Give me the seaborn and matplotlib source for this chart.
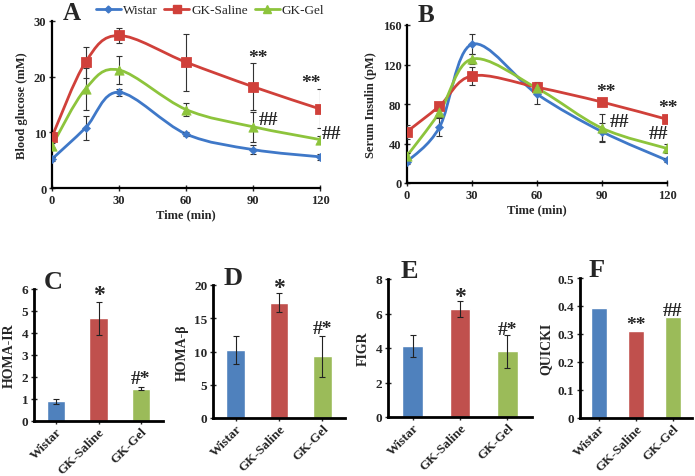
import numpy as np
import pandas as pd
import seaborn as sns
import matplotlib.pyplot as plt
from matplotlib.path import Path
from matplotlib.patches import PathPatch
from matplotlib.lines import Line2D
from matplotlib.ticker import FuncFormatter

sns.set_style("ticks")
plt.rcParams['font.family'] = ['Liberation Serif', 'DejaVu Serif']
plt.rcParams['font.weight'] = 'bold'

# time course data
time = [0, 15, 30, 60, 90, 120]

glucose_wistar = [5.2, 10.8, 17.2, 9.7, 6.9, 5.6]
glucose_wistar_err = [0.4, 2.1, 0.6, 0.4, 0.8, 0.5]
glucose_saline = [9.2, 22.6, 27.4, 22.6, 18.2, 14.2]
glucose_saline_err = [0.6, 2.8, 1.4, 5.1, 4.2, 3.5]
glucose_gel = [7.6, 17.8, 21.2, 14.1, 11.0, 8.7]
glucose_gel_err = [0.5, 3.7, 2.5, 1.1, 2.7, 0.6]

insulin_wistar = [21.5, 56.5, 140.5, 90.0, 52.0, 23.0]
insulin_wistar_err = [2, 9, 10, 10, 9, 2]
insulin_saline = [52.0, 78.0, 108.5, 97.0, 82.0, 64.5]
insulin_saline_err = [7, 3, 9, 5, 3, 2]
insulin_gel = [27.5, 71.5, 125.5, 96.0, 55.5, 35.0]
insulin_gel_err = [3, 5, 5, 4, 14, 5]

# summary indices
groups = ["Wistar", "GK-Saline", "GK-Gel"]
homa_ir = [0.9, 4.68, 1.47]
homa_ir_err = [0.12, 0.75, 0.07]
homa_b = [10.25, 17.35, 9.25]
homa_b_err = [2.1, 1.4, 3.1]
figr = [4.12, 6.25, 3.8]
figr_err = [0.62, 0.45, 0.95]
quicki = [0.392, 0.31, 0.36]

blue, red, green = "#4F81BD", "#C0504D", "#9BBB59"
line_blue, line_red, line_green = "#3F78C8", "#D0403A", "#8DC43C"

W, H = 695, 477
fig = plt.figure(figsize=(W / 100, H / 100), dpi=100)


def box(l, t, r, b):
    return [l / W, 1 - b / H, (r - l) / W, (b - t) / H]


def smooth_path(x, y):
    # Excel-like smoothed line: Catmull-Rom segments as cubic Bezier
    p = np.column_stack([x, y]).astype(float)
    n = len(p)
    verts = [p[0]]
    codes = [Path.MOVETO]
    for i in range(n - 1):
        p0 = p[i - 1] if i > 0 else p[i]
        p3 = p[i + 2] if i + 2 < n else p[i + 1]
        c1 = p[i] + (p[i + 1] - p0) / 6
        c2 = p[i + 1] - (p3 - p[i]) / 6
        verts += [c1, c2, p[i + 1]]
        codes += [Path.CURVE4] * 3
    return Path(verts, codes)


def time_panel(ax, series, ylim, yticks, ylabel):
    for vals, err, col, mk, ms in series:
        ax.add_patch(PathPatch(smooth_path(time, vals), fill=False,
                               edgecolor=col, lw=2, zorder=2))
        ax.errorbar(time, vals, yerr=err, fmt='none', ecolor='#333333',
                    elinewidth=0.8, capsize=2.5, capthick=0.8, zorder=3)
        sns.scatterplot(x=time, y=vals, marker=mk, s=ms, color=col,
                        edgecolor=col, ax=ax, zorder=4, legend=False)
    ax.set_xlim(0, 120)
    ax.set_ylim(*ylim)
    ax.set_xticks([0, 30, 60, 90, 120])
    ax.set_yticks(yticks)
    ax.set_xlabel("Time (min)", fontsize=9, fontweight='bold', labelpad=2)
    ax.set_ylabel(ylabel, fontsize=9, fontweight='bold')
    sns.despine(ax=ax)
    for s in ['left', 'bottom']:
        ax.spines[s].set_linewidth(1.6)
        ax.spines[s].set_color('black')
    ax.tick_params(direction='inout', length=4, width=1, labelsize=9, pad=2)


axA = fig.add_axes(box(52, 22, 320, 189))
time_panel(axA, [
    (glucose_wistar, glucose_wistar_err, line_blue, 'D', 18),
    (glucose_saline, glucose_saline_err, line_red, 's', 50),
    (glucose_gel, glucose_gel_err, line_green, '^', 45),
], (0, 30), [0, 10, 20, 30], "Blood glucose (mM)")
for x, y, t in [(92, 23.5, "**"), (116, 18.9, "**"), (97, 12.3, "##"), (125, 9.8, "##")]:
    axA.text(x, y, t, fontsize=14, fontweight='bold', ha='center', va='center', clip_on=False)

axB = fig.add_axes(box(407, 26, 667, 184))
time_panel(axB, [
    (insulin_wistar, insulin_wistar_err, line_blue, 'D', 18),
    (insulin_saline, insulin_saline_err, line_red, 's', 50),
    (insulin_gel, insulin_gel_err, line_green, '^', 45),
], (0, 160), [0, 40, 80, 120, 160], "Serum Insulin (pM)")
for x, y, t in [(92, 92.5, "**"), (120.5, 76, "**"), (98, 62, "##"), (116, 50, "##")]:
    axB.text(x, y, t, fontsize=14, fontweight='bold', ha='center', va='center', clip_on=False)

fig.text(72 / W, 1 - 14 / H, "A", fontsize=18, fontweight='bold', ha='center', va='center')
fig.text(426 / W, 1 - 16 / H, "B", fontsize=18, fontweight='bold', ha='center', va='center')

handles = [Line2D([], [], color=line_blue, marker='D', ms=3.5, lw=2),
           Line2D([], [], color=line_red, marker='s', ms=6, lw=2),
           Line2D([], [], color=line_green, marker='^', ms=6, lw=2)]
fig.legend(handles, groups, loc='center', bbox_to_anchor=(210 / W, 1 - 11 / H), ncol=3,
           frameon=False, handlelength=1.9, handletextpad=0.15, columnspacing=0.5,
           borderpad=0.1,
           prop={'family': 'Liberation Serif', 'size': 9.5, 'weight': 'normal'})


def bar_panel(ax, vals, err, ylim, yticks, ylabel, letter, marks, fmt=None):
    df = pd.DataFrame({"group": groups, "value": vals})
    sns.barplot(data=df, x="group", y="value", hue="group",
                palette=[blue, red, green], width=0.43, saturation=1,
                legend=False, ax=ax, zorder=2)
    if err is not None:
        ax.errorbar(range(3), vals, yerr=err, fmt='none', ecolor='#222222',
                    elinewidth=0.8, capsize=2.5, capthick=0.8, zorder=3)
    ax.set_xlim(-0.52, 2.52)
    ax.set_ylim(*ylim)
    ax.set_yticks(yticks)
    if fmt:
        ax.yaxis.set_major_formatter(FuncFormatter(fmt))
    ax.set_xlabel("")
    ax.set_ylabel(ylabel, fontsize=10, fontweight='bold', labelpad=4)
    ax.set_xticks(range(3))
    ax.set_xticklabels(groups, rotation=45, ha='right', rotation_mode='anchor',
                       fontsize=9, fontweight='bold')
    sns.despine(ax=ax)
    for s in ['left', 'bottom']:
        ax.spines[s].set_linewidth(2)
        ax.spines[s].set_color('black')
    ax.tick_params(direction='inout', length=4, width=1, labelsize=9.5, pad=2)
    ax.tick_params(axis='x', pad=1)
    ax.text(0.15, 1.06, letter, transform=ax.transAxes, fontsize=19,
            fontweight='bold', ha='center', va='center')
    for x, y, t, fs in marks:
        ax.text(x, y, t, fontsize=fs, fontweight='bold', ha='center', va='center')


axC = fig.add_axes(box(34, 290, 163, 422))
bar_panel(axC, homa_ir, homa_ir_err, (0, 6), range(7), "HOMA-IR", "C",
          [(1, 5.75, "*", 17), (2, 1.95, "#*", 14)])

axD = fig.add_axes(box(213, 286, 345, 419))
bar_panel(axD, homa_b, homa_b_err, (0, 20), [0, 5, 10, 15, 20], "HOMA-β", "D",
          [(1, 19.6, "*", 17), (2, 13.4, "#*", 14)])

axE = fig.add_axes(box(388, 280, 532, 418))
bar_panel(axE, figr, figr_err, (0, 8), [0, 2, 4, 6, 8], "FIGR", "E",
          [(1, 7.0, "*", 17), (2, 5.1, "#*", 14)])

axF = fig.add_axes(box(580, 279, 692, 419))
bar_panel(axF, quicki, None, (0, 0.5), [0, 0.1, 0.2, 0.3, 0.4, 0.5], "QUICKI", "F",
          [(1, 0.333, "**", 14), (2, 0.385, "##", 14)],
          fmt=lambda v, p: "0" if v == 0 else f"{v:.1f}")

fig.savefig("out.png", dpi=100)
